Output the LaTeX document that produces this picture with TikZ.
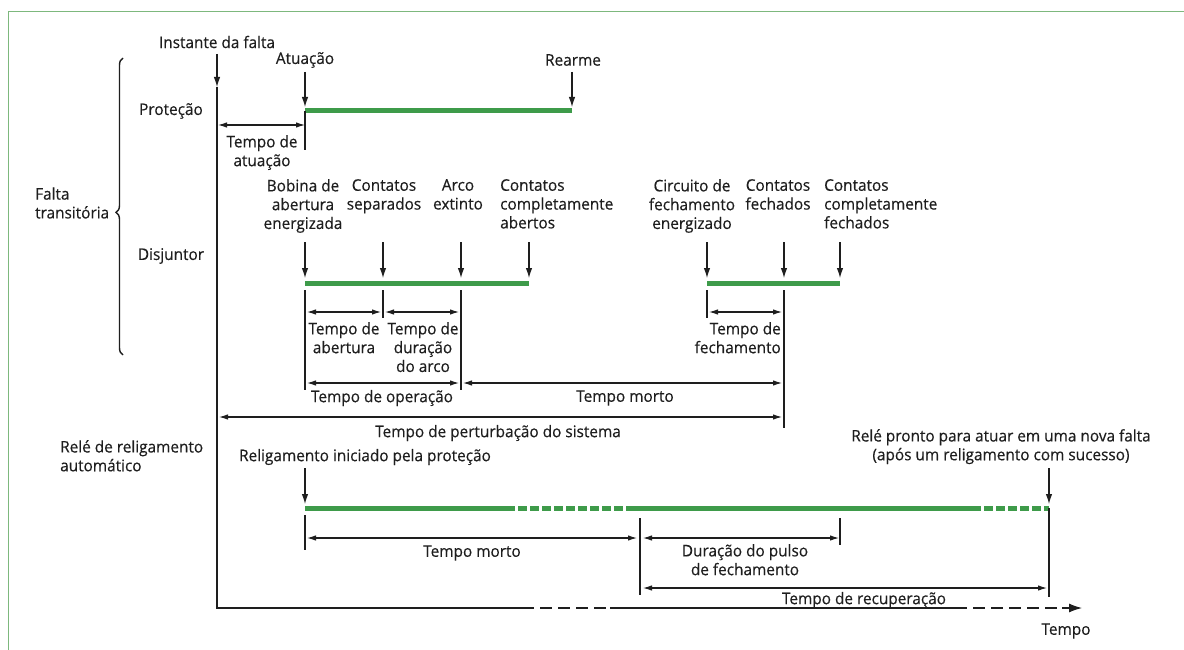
\documentclass[tikz,border=0pt]{standalone}
\usepackage{fontspec}
\setmainfont{Open Sans}[FakeStretch=0.96,FakeBold=0.35]
\usetikzlibrary{arrows.meta,decorations.pathreplacing}
\definecolor{ink}{HTML}{1E1E1E}
\definecolor{barg}{HTML}{3E9B4A}
\definecolor{frameg}{HTML}{7DB87D}
\tikzset{
 lbl/.style={font=\fontsize{16}{18.8}\selectfont, text=ink, inner sep=0pt, align=center},
 ln/.style={draw=ink, line width=1.1pt},
 pt/.style={ln, -{Latex[length=10pt,width=6.5pt]}},
 dim/.style={ln, {Latex[length=9pt,width=5.5pt]}-{Latex[length=9pt,width=5.5pt]}},
 bar/.style={draw=barg, line width=5pt},
 dbar/.style={bar, dash pattern=on 9pt off 3pt},
 ax/.style={draw=ink, line width=1.1pt},
 axd/.style={ax, dash pattern=on 12pt off 6pt},
}
\begin{document}
\begin{tikzpicture}[x=1pt,y=-1pt]
\useasboundingbox (0,0) rectangle (1184,650);
\fill[white] (0,0) rectangle (1184,650);
\draw[frameg, line width=1pt] (8,650) -- (8,12) -- (1184,12);

% ---------- left labels
\node[lbl] (ifalta) at (217,42) {Instante da falta};
\node[lbl] (atu) at (305,60) {Atuação};
\node[lbl] (rearme) at (573,60) {Rearme};
\node[lbl] (prot) at (171,111) {Proteção};
\node[lbl] (disj) at (171,256) {Disjuntor};
\node[lbl, align=left, anchor=west] (falta) at (35,203) {Falta\\transitória};
\coordinate (brB) at (123,355);
\coordinate (brT) at (123,58);
\draw[ln, line width=1.4pt, decorate, decoration={brace, amplitude=7pt, aspect=0.48}] (brB) -- (brT);

% ---------- axis
\coordinate (o0) at (217,54);
\coordinate (o1) at (217,87);
\coordinate (o2) at (217,608);
\coordinate (h1) at (522,608);
\coordinate (h2) at (610,608);
\coordinate (h3) at (955,608);
\coordinate (h4) at (1062,608);
\coordinate (h5) at (1082,608);
\draw[pt] (o0) -- (o1);
\draw[ax] (o1) -- (o2) -- (h1);
\draw[axd] (h1) -- (h2);
\draw[ax] (h2) -- (h3);
\draw[axd] (h3) -- (h4);
\draw[ax, -{Latex[length=13pt,width=9pt]}] (h4) -- (h5);
\node[lbl] (tempo) at (1066,631) {Tempo};

% ---------- Protecao
\coordinate (atuA) at (305,72);   \coordinate (atuB) at (305,107);
\coordinate (reA) at (572,72);    \coordinate (reB) at (572,107);
\coordinate (pb1) at (305,111);   \coordinate (pb2) at (572,111);
\coordinate (pt1) at (305,150);
\coordinate (ta1) at (218,125);   \coordinate (ta2) at (305,125);
\draw[pt] (atuA) -- (atuB);
\draw[pt] (reA) -- (reB);
\draw[bar] (pb1) -- (pb2);
\draw[ln] (pb1) -- (pt1);
\draw[dim] (ta1) -- (ta2);
\node[lbl, anchor=north] (tatu) at (262,135) {Tempo de\\atuação};

% ---------- Disjuntor labels
\node[lbl, anchor=north] (bob) at (303,179) {Bobina de\\abertura\\energizada};
\node[lbl, anchor=north] (csep) at (384,179) {Contatos\\separados};
\node[lbl, anchor=north] (arco) at (458,179) {Arco\\extinto};
\node[lbl, anchor=north west, align=left] (cab) at (500,179) {Contatos\\completamente\\abertos};
\node[lbl, anchor=north] (circ) at (692,179) {Circuito de\\fechamento\\energizado};
\node[lbl, anchor=north] (cfe) at (778,179) {Contatos\\fechados};
\node[lbl, anchor=north west, align=left] (cfc) at (824,179) {Contatos\\completamente\\fechados};

% arrows onto the breaker bars
\foreach \n/\x in {d1/305,d2/383,d3/461,d4/529,d5/707,d6/784,d7/840}{
  \coordinate (\n a) at (\x,242);
  \coordinate (\n b) at (\x,278);
  \coordinate (\n c) at (\x,283);
}
\draw[pt] (d1a) -- (d1b);
\draw[pt] (d2a) -- (d2b);
\draw[pt] (d3a) -- (d3b);
\draw[pt] (d4a) -- (d4b);
\draw[pt] (d5a) -- (d5b);
\draw[pt] (d6a) -- (d6b);
\draw[pt] (d7a) -- (d7b);
\draw[bar] (d1c) -- (d4c);
\draw[bar] (d5c) -- (d7c);

% ticks
\coordinate (k1a) at (305,290); \coordinate (k1b) at (305,390);
\coordinate (k2a) at (383,290); \coordinate (k2b) at (383,318);
\coordinate (k3a) at (461,290); \coordinate (k3b) at (461,390);
\coordinate (k5a) at (707,290); \coordinate (k5b) at (707,318);
\coordinate (k6a) at (784,290); \coordinate (k6b) at (784,428);
\draw[ln] (k1a) -- (k1b);
\draw[ln] (k2a) -- (k2b);
\draw[ln] (k3a) -- (k3b);
\draw[ln] (k5a) -- (k5b);
\draw[ln] (k6a) -- (k6b);

% dimension arrows
\coordinate (ab1) at (307,312); \coordinate (ab2) at (381,312);
\coordinate (ar1) at (385,312); \coordinate (ar2) at (459,312);
\coordinate (fe1) at (709,312); \coordinate (fe2) at (782,312);
\coordinate (op1) at (307,383); \coordinate (op2) at (459,383);
\coordinate (mo1) at (463,383); \coordinate (mo2) at (782,383);
\coordinate (pe1) at (219,417); \coordinate (pe2) at (782,417);
\draw[dim] (ab1) -- (ab2);
\draw[dim] (ar1) -- (ar2);
\draw[dim] (fe1) -- (fe2);
\draw[dim] (op1) -- (op2);
\draw[dim] (mo1) -- (mo2);
\draw[dim] (pe1) -- (pe2);
\node[lbl, anchor=north] (tab) at (344,322) {Tempo de\\abertura};
\node[lbl, anchor=north] (tar) at (423,322) {Tempo de\\duração\\do arco};
\node[lbl, anchor=north east, align=right] (tfe) at (781,322) {Tempo de\\fechamento};
\node[lbl] (top) at (382,398) {Tempo de operação};
\node[lbl] (tmo) at (625,398) {Tempo morto};
\node[lbl] (tpe) at (498,433) {Tempo de perturbação do sistema};

% ---------- Religamento
\node[lbl, anchor=north west, align=left] (rele) at (60,440) {Relé de religamento\\automático};
\node[lbl] (rini) at (365,457) {Religamento iniciado pela proteção};
\node[lbl, anchor=north] (rpr) at (1001,429) {Relé pronto para atuar em uma nova falta\\(após um religamento com sucesso)};

\coordinate (r1a) at (305,468); \coordinate (r1b) at (305,504);
\coordinate (r2a) at (1049,468); \coordinate (r2b) at (1049,504);
\draw[pt] (r1a) -- (r1b);
\draw[pt] (r2a) -- (r2b);
\coordinate (g0) at (305,508);
\coordinate (g1) at (506,508);
\coordinate (g2) at (632,508);
\coordinate (g3) at (972,508);
\coordinate (g4) at (1049,508);
\draw[bar] (g0) -- (g1);
\draw[dbar] (g1) -- (g2);
\draw[bar] (g2) -- (g3);
\draw[dbar] (g3) -- (g4);

\coordinate (q1a) at (305,515); \coordinate (q1b) at (305,550);
\coordinate (q2a) at (640,518); \coordinate (q2b) at (640,595);
\coordinate (q3a) at (840,518); \coordinate (q3b) at (840,545);
\coordinate (q4b) at (1049,597);
\draw[ln] (q1a) -- (q1b);
\draw[ln] (q2a) -- (q2b);
\draw[ln] (q3a) -- (q3b);
\draw[ln] (g4) -- (q4b);

\coordinate (m1) at (307,538); \coordinate (m2) at (637,538);
\coordinate (u1) at (643,538); \coordinate (u2) at (839,538);
\coordinate (c1) at (643,588); \coordinate (c2) at (1047,588);
\draw[dim] (m1) -- (m2);
\draw[dim] (u1) -- (u2);
\draw[dim] (c1) -- (c2);
\node[lbl] (tmo2) at (472,553) {Tempo morto};
\node[lbl, anchor=north] (tdu) at (745,544) {Duração do pulso\\de fechamento};
\node[lbl] (trc) at (864,600) {Tempo de recuperação};
\end{tikzpicture}
\end{document}
